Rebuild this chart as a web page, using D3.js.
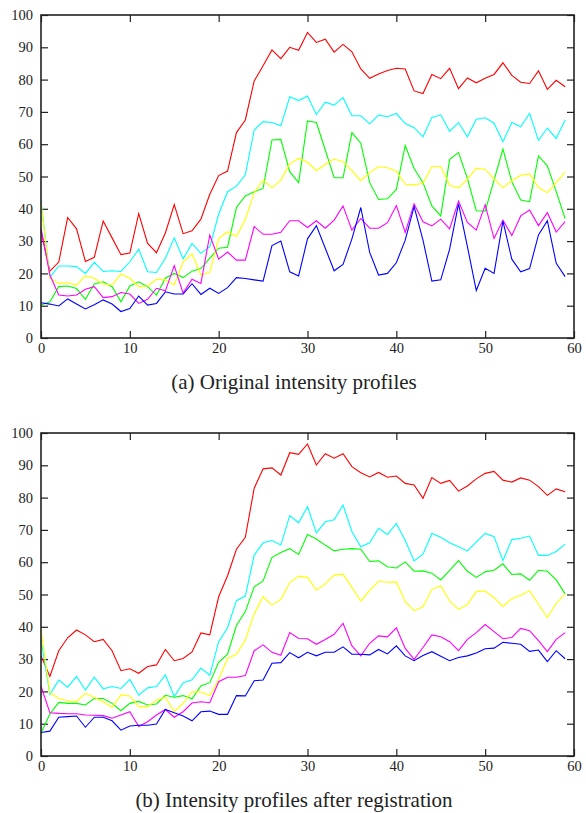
<!DOCTYPE html>
<html>
<head>
<meta charset="utf-8">
<script src="https://cdn.jsdelivr.net/npm/d3@7"></script>
<style>
  body { margin: 0; background: #fff; }
  svg { display: block; }
  text { font-family: "Liberation Serif", "DejaVu Serif", serif; fill: #222; }
</style>
</head>
<body>
<div id="chart"></div>
<script>
// x positions 0..59, tick labels
const xTicks = [0, 10, 20, 30, 40, 50, 60];
const yTicks = [0, 10, 20, 30, 40, 50, 60, 70, 80, 90, 100];
const seriesColors = ["#ff0000", "#00ffff", "#00ff00", "#ffff00", "#ff00ff", "#0000ff"];

// (a) original profiles
const redA = [33, 20.7, 23.5, 37.3, 33.8, 23.7, 25, 36.2, 31, 25.8, 26.3, 38.5, 29.3, 26.4, 32.5, 41.3, 32.3, 33.2, 36.8, 44.5, 50.3, 51.7, 63.6, 67.5, 79.6, 84.3, 89.2, 86.5, 90, 89.1, 94.6, 91.5, 92.5, 88.5, 90.9, 88.6, 83.3, 80.4, 81.7, 82.8, 83.5, 83.3, 76.5, 75.7, 81.6, 80.3, 83.5, 77.2, 80.5, 79, 80.4, 81.6, 85.2, 81.3, 79.2, 78.8, 82.7, 77, 79.8, 77.8];
const cyanA = [42.5, 18.8, 22.3, 22.3, 22.1, 20, 23.4, 20.6, 20.8, 20.6, 23.6, 27.5, 20.5, 20.3, 24.7, 31, 24.5, 29.3, 26.2, 28.3, 38.3, 45.3, 47, 50.5, 64.4, 67, 66.7, 65.7, 74.7, 73.5, 74.9, 69.2, 73, 72.1, 74.4, 68.8, 68.8, 66.3, 69, 68.5, 69.5, 66.4, 65.1, 62.3, 68.3, 69.1, 64, 66.7, 62.3, 67.7, 68.2, 66.5, 60.8, 66.7, 65.4, 69.5, 61.2, 65, 61.8, 67.5];
const greenA = [10.2, 11.2, 15.9, 16.1, 15.3, 12, 16.7, 17.4, 15.9, 11.2, 16.1, 17.4, 15.9, 13.3, 18.5, 20, 18.7, 20.7, 21.5, 24.7, 27.8, 28.1, 40.4, 44, 45.3, 46.3, 61.3, 61.5, 51.5, 48.1, 67.2, 66.7, 58.2, 49.6, 49.6, 63.6, 60.3, 48.1, 42.9, 43.1, 46, 59.6, 52.5, 48.1, 40.9, 37.8, 55.3, 57.4, 49.4, 39.4, 39.3, 48.9, 58.5, 48.4, 42.7, 42.2, 56.4, 53.3, 45.3, 37];
const yellowA = [42, 18.5, 16.9, 17.1, 16.4, 19.2, 18.5, 16.7, 16.4, 19.8, 18.5, 15.9, 16.1, 18.2, 18, 16.4, 23.6, 26, 19.5, 20.3, 30.8, 32.9, 31.4, 36.7, 45, 48.9, 46.5, 48.9, 53.9, 55.6, 54.4, 51.8, 53.8, 55.4, 54.6, 51.8, 48.7, 51.2, 53, 52.7, 51.7, 47.6, 47.4, 47.9, 53.1, 53.1, 47.3, 46.5, 49.1, 52.6, 52.2, 49.3, 46.5, 48.7, 50.4, 50.8, 46.6, 45, 48.1, 51.4];
const magentaA = [34, 19.5, 13.3, 13, 13.3, 15.1, 15.9, 12.5, 12.8, 14.1, 13.6, 10.7, 12, 15.4, 14.6, 22.4, 13.9, 18.2, 16.9, 31.9, 24.4, 26.6, 24.1, 24.1, 34.5, 32.1, 32.1, 32.7, 36.3, 36.3, 34.2, 36.3, 34, 36.5, 40.9, 33.4, 37, 34, 34, 35.7, 41, 32.7, 41.5, 36, 34.7, 36.8, 33.8, 42.4, 35.8, 33.4, 41.2, 30.8, 36.5, 31.7, 37.8, 39.6, 34.8, 38.8, 32.8, 36];
const blueA = [10.9, 10.5, 9.9, 12.1, 10.5, 9, 10.3, 11.8, 10.5, 8.2, 9.1, 13, 10.2, 10.7, 14.3, 13.6, 13.6, 16.8, 13.5, 15.4, 13.8, 15.6, 18.7, 18.4, 18, 17.6, 28.6, 30, 20.5, 19.2, 30.7, 34.8, 27.8, 20.8, 22.8, 30.7, 40.4, 26.5, 19.5, 20, 23.3, 30.3, 40.7, 30.3, 17.6, 18, 27.5, 41.5, 28.3, 14.7, 21.6, 20, 36.2, 24.4, 20.5, 21.5, 31.9, 36.3, 23.1, 19];

// (b) after registration
const redB = [31, 24.6, 32.6, 36.6, 39, 37.5, 35.4, 36.1, 32.6, 26.4, 27, 25.6, 27.7, 28.2, 33, 29.5, 30.2, 32.2, 38.1, 37.5, 49.3, 55.8, 64, 67.7, 82.9, 88.9, 89.2, 87, 93.9, 93.4, 96.6, 90.1, 93.6, 92.2, 93.6, 89.6, 87.7, 86.4, 87.8, 86.3, 86.7, 84.4, 83.9, 79.8, 86.2, 84.4, 85.3, 82, 83.6, 85.8, 87.5, 88.1, 85.4, 84.8, 86.1, 85.4, 83.4, 80.7, 82.7, 81.8];
const cyanB = [36, 19.1, 23.5, 21.3, 24.6, 20.4, 24.4, 20.8, 21.5, 20.9, 23.7, 18.8, 21.1, 21.5, 25.1, 18.4, 22.7, 23.6, 27.2, 25, 35.4, 39.7, 48.1, 49.5, 62.2, 66, 66.7, 65.3, 74.4, 72.2, 77.2, 69.1, 72.5, 73.1, 77.7, 69.5, 64.8, 66, 70.5, 68.6, 72, 66.7, 60.4, 62.5, 68.9, 67.7, 66, 64.8, 63.5, 66.2, 68.9, 67.9, 60.5, 67, 67.4, 68.1, 62.1, 62.1, 63.3, 65.6];
const greenB = [7.1, 13, 16.6, 16.3, 16.3, 15.8, 17.8, 17.8, 16.3, 14, 16.3, 16.9, 15.8, 16.1, 18.8, 18.2, 18.7, 17.7, 21.7, 22.7, 29, 31.5, 40.4, 44.7, 52.4, 54.2, 61.5, 63, 64.2, 62.4, 68.6, 67.2, 65.3, 63.5, 64, 64.2, 64, 60.2, 60.4, 58.6, 58.2, 60.1, 57.2, 57.3, 56.6, 54.5, 57.5, 60.5, 57.2, 55.3, 57, 57.5, 59.5, 56.2, 56.4, 54.4, 57.5, 57.2, 54.5, 50.2];
const yellowB = [39, 19.6, 17.8, 17.1, 16.8, 19.4, 18.2, 16.7, 15.1, 18.9, 18.6, 15.3, 15.3, 17.3, 18.2, 13.7, 16.3, 19.9, 19.8, 18.7, 23.7, 30.2, 31.5, 35.9, 44, 49.3, 46.7, 48.5, 53.7, 55.7, 55.3, 51.4, 53.3, 56, 56.3, 52.2, 48, 51.3, 54.1, 53.8, 53.9, 47.8, 45, 46.2, 51.6, 52.7, 48, 45.4, 46.9, 50.9, 51.1, 49, 46.3, 48.7, 49.8, 51.2, 47, 42.9, 47.3, 50.2];
const magentaB = [21.6, 13.4, 13.2, 13.1, 13.1, 12.7, 12.6, 12.5, 11.7, 12.7, 13.7, 9.1, 10.6, 12.7, 14.4, 12, 13.7, 16.4, 16.8, 16.5, 23, 24.4, 24.4, 24.9, 32.6, 34.4, 32.1, 31.2, 38.2, 36.4, 36.3, 34.6, 36.1, 37.7, 41.1, 34.1, 31, 34.9, 37.2, 36.9, 39.7, 33.3, 29.9, 33.6, 37.5, 36.9, 35.4, 32.6, 36.1, 38.2, 40.7, 38.5, 36.3, 36.7, 39.5, 38.8, 35.7, 32.3, 36.1, 38.2];
const blueB = [7.3, 7.7, 12, 12.2, 12.4, 8.9, 12, 12, 10.9, 8, 9.3, 9.5, 9.5, 9.9, 14.4, 13.4, 12.4, 10.9, 13.7, 13.9, 12.9, 12.9, 18.7, 18.6, 23.3, 23.5, 28.7, 28.9, 32, 30.4, 32.1, 31, 32.1, 32.1, 33.8, 31.5, 31.5, 31.3, 33, 31.6, 34.1, 31, 29.5, 31.1, 32.3, 30.9, 29.5, 30.5, 31, 31.9, 33.2, 33.4, 35.2, 34.9, 34.6, 32.4, 32.8, 29.2, 32.6, 30.1];

const panels = [
  { top: 15, caption: "(a) Original intensity profiles", series: [redA, cyanA, greenA, yellowA, magentaA, blueA] },
  { top: 433, caption: "(b) Intensity profiles after registration", series: [redB, cyanB, greenB, yellowB, magentaB, blueB] }
];

const W = 586, H = 813;
const plotLeft = 41, plotRight = 574, plotH = 323;
const tickLen = 7;

const svg = d3.select("#chart").append("svg")
  .attr("width", W)
  .attr("height", H);

const x = d3.scaleLinear().domain([0, 60]).range([plotLeft, plotRight]);

panels.forEach(p => {
  const y = d3.scaleLinear().domain([0, 100]).range([p.top + plotH, p.top]);
  const g = svg.append("g");

  // mirrored inward ticks on all four sides
  g.append("g")
    .attr("transform", `translate(${plotLeft},0)`)
    .call(d3.axisLeft(y).tickValues(yTicks).tickSize(-tickLen).tickPadding(8))
    .call(a => a.select(".domain").remove())
    .selectAll("text").style("font-size", "14.5px").style("font-family", "Liberation Serif");
  g.append("g")
    .attr("transform", `translate(${plotRight},0)`)
    .call(d3.axisRight(y).tickValues(yTicks).tickSize(-tickLen).tickFormat(""))
    .call(a => a.select(".domain").remove());
  g.append("g")
    .attr("transform", `translate(0,${p.top + plotH})`)
    .call(d3.axisBottom(x).tickValues(xTicks).tickSize(-tickLen).tickPadding(5))
    .call(a => a.select(".domain").remove())
    .selectAll("text").style("font-size", "14.5px").style("font-family", "Liberation Serif");
  g.append("g")
    .attr("transform", `translate(0,${p.top})`)
    .call(d3.axisTop(x).tickValues(xTicks).tickSize(-tickLen).tickFormat(""))
    .call(a => a.select(".domain").remove());

  g.selectAll(".tick line").attr("stroke", "#222").attr("stroke-width", 1.2);
  g.selectAll(".tick text").attr("fill", "#222");

  const line = d3.line()
    .x((d, i) => x(i))
    .y(d => y(d));

  g.selectAll("path.series")
    .data(p.series)
    .enter()
    .append("path")
    .attr("class", "series")
    .attr("d", line)
    .attr("fill", "none")
    .attr("stroke", (d, i) => seriesColors[i])
    .attr("stroke-width", 1.1)
    .attr("stroke-linejoin", "miter");

  g.append("rect")
    .attr("x", plotLeft)
    .attr("y", p.top)
    .attr("width", plotRight - plotLeft)
    .attr("height", plotH)
    .attr("fill", "none")
    .attr("stroke", "#222")
    .attr("stroke-width", 1.6);

  g.append("text")
    .attr("x", 294)
    .attr("y", p.top + plotH + 51)
    .attr("text-anchor", "middle")
    .style("font-size", "21px")
    .text(p.caption);
});
</script>
</body>
</html>
